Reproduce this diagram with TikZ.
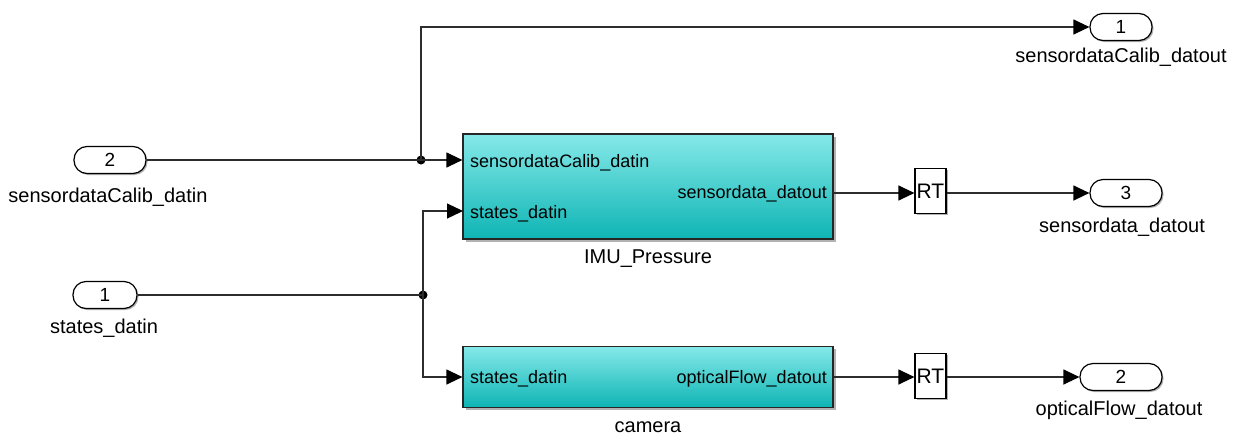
\documentclass[tikz,border=0pt]{standalone}
\usepackage{fontspec}
\setmainfont{Liberation Sans}
\usetikzlibrary{arrows.meta,shadows,calc}
\definecolor{wirecol}{RGB}{45,45,45}
\definecolor{blktop}{RGB}{134,233,233}
\definecolor{blkbot}{RGB}{14,180,180}

\begin{document}
\begin{tikzpicture}[x=1pt,y=-1pt,
  wire/.style={draw=wirecol,line width=1.2pt},
  sig/.style={wire,-{Triangle[length=16pt,width=15pt,fill=black,color=black]}},
  dot/.style={circle,fill=black,inner sep=0pt,minimum size=9pt},
  pill/.style={draw=black,line width=1.2pt,fill=white,rounded corners=13pt,
    minimum height=27pt,inner sep=0pt,font=\fontsize{19}{22}\selectfont,
    drop shadow={shadow xshift=1.5pt,shadow yshift=-1.5pt,fill=black!60,opacity=0.5}},
  subsys/.style={draw=black!85,line width=1.2pt,top color=blktop,bottom color=blkbot,
    inner sep=0pt,minimum width=370pt,
    drop shadow={shadow xshift=2.5pt,shadow yshift=-2.5pt,fill=black!60,opacity=0.5}},
  rtbox/.style={draw=black,line width=1.2pt,fill=white,minimum width=31pt,minimum height=45pt,
    inner sep=0pt,font=\fontsize{21}{24}\selectfont,
    drop shadow={shadow xshift=1.5pt,shadow yshift=-1.5pt,fill=black!60,opacity=0.5}},
  lbl/.style={anchor=base,inner sep=0pt,font=\fontsize{20}{24}\selectfont},
  plbl/.style={inner sep=0pt,font=\fontsize{18}{22}\selectfont},
]
\useasboundingbox[fill=white] (0,0) rectangle (1241,434);

% inports
\node[pill,minimum width=72pt] (in2) at (110,160) {2};
\node[lbl] (in2l) at (108,202) {sensordataCalib\_datin};
\node[pill,minimum width=64pt] (in1) at (105,295) {1};
\node[lbl] (in1l) at (104,333) {states\_datin};

% subsystems
\node[subsys,minimum height=105pt] (imu) at (648,186.5) {};
\node[lbl] (imul) at (648,263) {IMU\_Pressure};
\node[plbl,anchor=base west] (imuA) at (470,167) {sensordataCalib\_datin};
\node[plbl,anchor=base west] (imuB) at (470,218) {states\_datin};
\node[plbl,anchor=base east] (imuC) at (827,198) {sensordata\_datout};

\node[subsys,minimum height=61pt] (cam) at (648,377) {};
\node[lbl] (caml) at (648,432) {camera};
\node[plbl,anchor=base west] (camA) at (470,383.5) {states\_datin};
\node[plbl,anchor=base east] (camB) at (827,383.5) {opticalFlow\_datout};

% rate transitions
\node[rtbox] (rt1) at (930.5,191) {RT};
\node[rtbox] (rt2) at (930.5,376) {RT};

% outports
\node[pill,minimum width=62pt] (out1) at (1121,27) {1};
\node[lbl] (out1l) at (1121,62) {sensordataCalib\_datout};
\node[pill,minimum width=72pt] (out3) at (1126,193) {3};
\node[lbl] (out3l) at (1122,232) {sensordata\_datout};
\node[pill,minimum width=82pt] (out2) at (1121,377) {2};
\node[lbl] (out2l) at (1119,415) {opticalFlow\_datout};

% branch points
\node[dot] (j1) at (421,160) {};
\node[dot] (j2) at (423,295) {};
\coordinate (imuS) at (463,211);
\coordinate (imuO) at (833,193);

% signal lines
\draw[wire] (in2.east) -- (j1.center);
\draw[sig] (j1.center) -- (j1.center -| imu.west);
\draw[sig] (j1.center) |- (out1.west);
\draw[wire] (in1.east) -- (j2.center);
\draw[sig] (j2.center) |- (imuS);
\draw[sig] (j2.center) |- (cam.west);
\draw[sig] (imuO) -- (imuO -| rt1.west);
\draw[sig] (imuO -| rt1.east) -- (out3.west);
\draw[sig] (cam.east) -- (cam.east -| rt2.west);
\draw[sig] (cam.east -| rt2.east) -- (out2.west);
\end{tikzpicture}
\end{document}
